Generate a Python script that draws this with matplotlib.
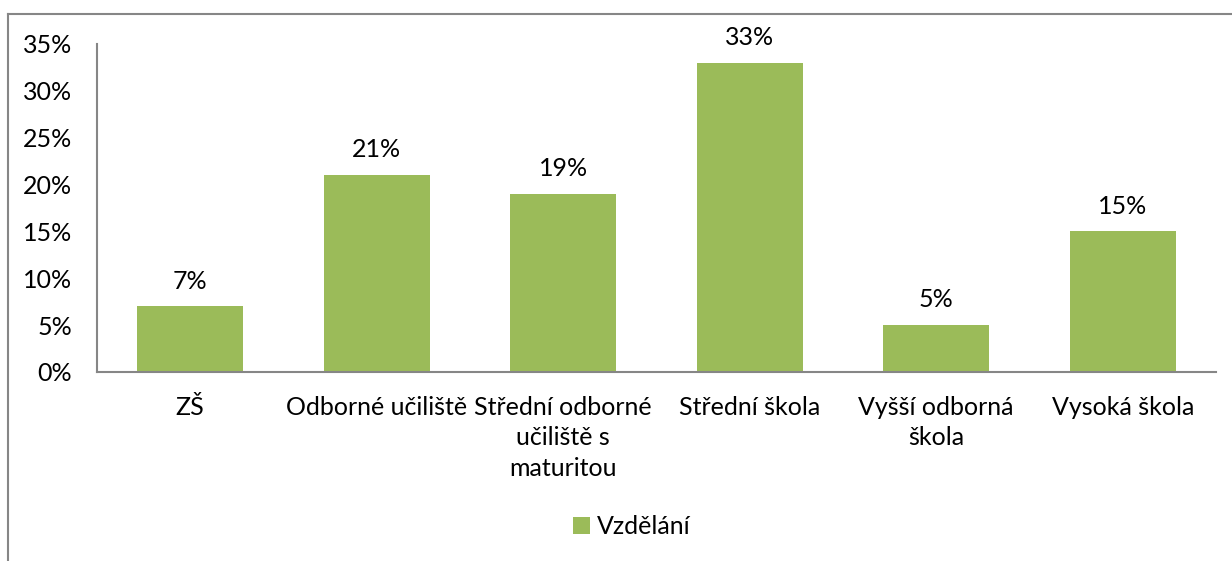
import matplotlib
matplotlib.use("Agg")
import matplotlib.pyplot as plt
from matplotlib.lines import Line2D
from matplotlib.ticker import FuncFormatter

categories = ["ZŠ", "Odborné učiliště", "Střední odborné\nučiliště s\nmaturitou",
              "Střední škola", "Vyšší odborná\nškola", "Vysoká škola"]
values = [7, 21, 19, 33, 5, 15]
series_name = "Vzdělání"
yticks = [0, 5, 10, 15, 20, 25, 30, 35]

plt.rcParams['font.family'] = ['Lato', 'DejaVu Sans']
bar_color = "#9BBB59"
grey = "#868686"
fs = 18

fig = plt.figure(figsize=(12.32, 5.61), dpi=100)
ax = fig.add_axes([0.0787, 0.3369, 0.9083, 0.5847])

x = range(len(categories))
bars = ax.bar(x, values, width=0.57, color=bar_color, label=series_name, zorder=2)
for xi, v in zip(x, values):
    ax.annotate(f"{v}%", (xi, v), xytext=(0, 10), textcoords="offset points",
                ha="center", va="bottom", fontsize=fs, color="black")

ax.set_xlim(-0.5, len(categories) - 0.5)
ax.set_ylim(0, 35)
ax.set_yticks(yticks)
ax.yaxis.set_major_formatter(FuncFormatter(lambda v, p: f"{int(v)}%"))
ax.set_xticks(list(x))
ax.set_xticklabels(categories, fontsize=fs, linespacing=1.4, va="top")
ax.tick_params(axis="y", length=0, pad=18, labelsize=fs)
ax.tick_params(axis="x", length=0, pad=17)

for s in ["top", "right"]:
    ax.spines[s].set_visible(False)
for s in ["left", "bottom"]:
    ax.spines[s].set_color(grey)
    ax.spines[s].set_linewidth(1.5)

leg = fig.legend(handles=[bars], labels=[series_name], loc="center",
                 bbox_to_anchor=(632 / 1232, 1 - 527 / 561), frameon=False,
                 fontsize=fs, handlelength=0.65, handleheight=0.65, handletextpad=0.3)

# outer chart border (left and top visible)
fig.add_artist(Line2D([8 / 1232, 8 / 1232], [0, 1 - 14 / 561], color=grey, lw=1.5,
                      transform=fig.transFigure))
fig.add_artist(Line2D([8 / 1232, 1], [1 - 14 / 561, 1 - 14 / 561], color=grey, lw=1.5,
                      transform=fig.transFigure))

fig.savefig("out.png", dpi=100)
